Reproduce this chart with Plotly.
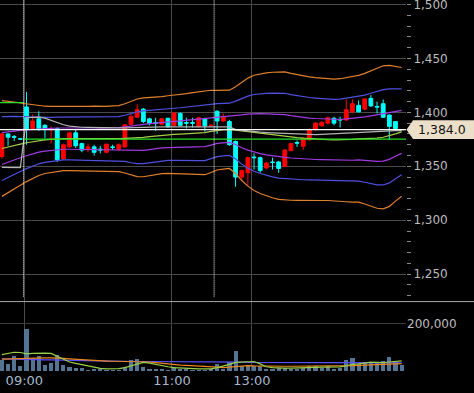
import plotly.graph_objects as go

# ---- data (bar index: 0 = 09:00 bar, 31 = 12:30 bar; negatives = previous day) ----
bars = list(range(-4, 62))
opens = [1359, 1380, 1377.5, 1375.5, 1405, 1385, 1394, 1388, 1384, 1385, 1357, 1368, 1381, 1371,
         1365.5, 1368, 1366, 1363, 1368, 1366, 1368, 1389, 1395.5, 1403, 1394, 1390.5, 1389, 1394.5,
         1388, 1399, 1390.5, 1390.5, 1387, 1394, 1388, 1401, 1392, 1391.5, 1373, 1340, 1344, 1358.5,
         1358, 1348.5, 1354, 1354, 1350, 1364.5, 1372, 1368.5, 1374.5, 1384, 1387.5, 1390, 1394.5,
         1393.5, 1393, 1400.5, 1406.5, 1403, 1413, 1405.5, 1408, 1397.5, 1391.5, 1384]
highs = [1381, 1380.5, 1379, 1376, 1419, 1398, 1401, 1389, 1387, 1386, 1371, 1382, 1384, 1372,
         1371, 1370, 1369, 1371, 1370, 1371.5, 1389, 1399, 1407.5, 1404, 1395, 1395, 1395, 1395,
         1400, 1400, 1395, 1395, 1396, 1395, 1388.5, 1402, 1399, 1393, 1374, 1347, 1359, 1362,
         1359, 1354, 1358, 1355, 1366, 1372, 1374, 1377, 1385, 1391, 1392, 1396, 1396, 1396,
         1412, 1412, 1411, 1413, 1416, 1410, 1412, 1398, 1392, 1384.5]
lows = [1357, 1369, 1373.5, 1375, 1370, 1384, 1383, 1376, 1371, 1354, 1356, 1367, 1367, 1363,
        1363, 1360, 1362, 1362, 1365, 1364, 1367, 1388, 1395, 1390, 1388, 1383, 1388, 1386,
        1387, 1387, 1385, 1386, 1386, 1382, 1387.5, 1380, 1391, 1369, 1331, 1337, 1332, 1347,
        1344, 1347, 1347, 1344, 1349, 1364, 1368, 1365, 1374, 1383, 1387, 1389, 1388, 1386,
        1392, 1399, 1400, 1402, 1405, 1399, 1395, 1374.5, 1383, 1383.5]
closes = [1380, 1377, 1377, 1375.2, 1384, 1392, 1384, 1384, 1385, 1356, 1370, 1381, 1369, 1365,
          1368, 1363, 1365, 1370.5, 1367.5, 1370, 1388.5, 1396, 1402.5, 1391.5, 1389.5, 1390, 1394,
          1386.5, 1399.5, 1388, 1390, 1390, 1395, 1387.5, 1388, 1392, 1395.5, 1370, 1340, 1346,
          1358, 1358, 1346, 1353, 1353.5, 1348, 1365, 1371, 1371.5, 1376, 1384, 1390, 1390.5,
          1395, 1390, 1393, 1402.5, 1408, 1400.5, 1412.5, 1406, 1405, 1395.5, 1387, 1385, 1384]
volume_k = [50, 31, 65, 22,
            177, 55, 67, 28, 34, 69, 28, 20, 13, 15,
            8, 11, 11, 8, 6, 6, 20, 48, 52, 20,
            11, 11, 11, 8, 17, 11, 11, 8, 6, 8,
            11, 31, 11, 38, 86, 21, 28, 24, 21, 10,
            10, 14, 14, 10, 10, 13, 21, 21, 14, 21,
            10, 14, 48, 57, 31, 35, 38, 35, 42, 62,
            38, 28]
vol_ma_short_k = [69, 75, 79, 78,
                  72, 74, 76, 75, 74, 62, 48, 38, 32, 26,
                  20, 15, 11, 9, 9, 10, 14, 22, 30, 36,
                  33, 27, 22, 18, 14, 12, 11, 10, 9, 9,
                  9, 14, 20, 28, 36, 38, 40, 40, 30, 18,
                  14, 12, 12, 12, 12, 12, 14, 15, 16, 17,
                  17, 17, 22, 28, 30, 33, 37, 36, 35, 38,
                  42, 43]
vol_ma_mid_k = [50, 51, 52, 53,
                55, 55, 55, 55, 55, 55, 53, 51, 49, 47,
                45, 44, 43, 42, 41, 41, 41, 41, 41, 40,
                38, 35, 32, 29, 27, 25, 24, 23, 22, 21,
                20, 16, 14, 16, 20, 22, 23, 22, 21, 21,
                20, 20, 20, 20, 20, 20, 20, 20, 20, 20,
                20, 21, 22, 23, 24, 25, 26, 27, 28, 29,
                30, 31]
vol_ma_long_k = [51, 50, 50, 49,
                 49, 48, 48, 47, 47, 46, 46, 45, 45, 44,
                 44, 43, 43, 42, 42, 41, 41, 41, 40, 40,
                 40, 39, 39, 39, 38, 38, 38, 37, 37, 37,
                 37, 37, 37, 37, 37, 37, 36, 36, 36, 36,
                 36, 36, 36, 35, 35, 35, 35, 35, 35, 35,
                 35, 35, 35, 35, 35, 34, 34, 34, 34, 34,
                 34, 34]
bb_mid = [1366.5, 1368.1, 1369.4, 1370.6,
          1371.8, 1372.9, 1373.9, 1374.5, 1375.0, 1375.5, 1375.7, 1375.7, 1375.6, 1375.5,
          1375.5, 1375.4, 1375.3, 1375.3, 1375.5, 1375.6, 1375.9, 1376.1, 1376.4, 1376.9,
          1377.5, 1378.2, 1378.9, 1379.4, 1379.6, 1379.9, 1380.2, 1380.5, 1380.8, 1381.2,
          1382.4, 1383.5, 1384.0, 1384.3, 1383.6, 1382.4, 1381.7, 1381.0, 1380.3, 1379.6,
          1379.0, 1378.4, 1378.1, 1377.3, 1376.6, 1376.1, 1375.6, 1375.3, 1375.0, 1374.7,
          1374.5, 1374.5, 1374.7, 1375.0, 1375.5, 1375.6, 1375.9, 1376.2, 1376.9, 1378.2,
          1380.1, 1381.9]
bb_sigma = [14.8, 14.1, 13.4, 12.7,
            12.0, 11.4, 10.8, 10.4, 10.2, 10.0, 9.9, 9.9, 9.9, 10.0,
            10.0, 10.1, 10.1, 10.1, 10.2, 10.2, 10.7, 11.4, 12.0, 12.2,
            12.1, 11.9, 11.9, 12.0, 12.1, 12.2, 12.4, 12.6, 12.8, 13.0,
            12.7, 12.3, 12.2, 12.1, 13.4, 15.2, 16.7, 17.8, 18.5, 19.0,
            19.4, 19.7, 19.8, 19.6, 19.4, 19.3, 19.1, 19.0, 18.9, 18.8,
            18.8, 18.9, 19.2, 19.4, 19.6, 20.2, 20.9, 21.7, 22.1, 21.8,
            20.8, 19.9]
vwap = [1349, 1349, 1348.8, 1348.8,
        1395, 1395.5, 1395.5, 1394.6, 1392.6, 1390.3, 1388.5, 1387.3, 1386.6, 1386.2,
        1386.0, 1385.8, 1385.6, 1385.6, 1385.6, 1385.6, 1385.6, 1385.8, 1386.2, 1386.4,
        1386.5, 1386.5, 1386.5, 1386.5, 1386.5, 1386.5, 1386.5, 1386.5, 1386.5, 1386.5,
        1386.5, 1386.8, 1386.9, 1386.6, 1384.0, 1383.3, 1382.6, 1382.2, 1381.6, 1381.3,
        1381.0, 1380.6, 1380.3, 1380.0, 1379.6, 1379.4, 1379.3, 1379.4, 1379.6, 1379.9,
        1380.2, 1380.5, 1381.0, 1381.6, 1382.0, 1382.3, 1382.6, 1382.8, 1383.0, 1383.1,
        1383.1, 1383.1]
prev_close_levels = [1409, 1375.2]
prev_close_start = [-4.31, -0.5]
prev_close_end = [-0.5, 61.71]
time_labels = ["09:00", "11:00", "13:00"]
time_label_bars = [0, 24, 37]
session_start_bars = [0, 31]

volume = [v * 1000 for v in volume_k]
vol_ma_short = [v * 1000 for v in vol_ma_short_k]
vol_ma_mid = [v * 1000 for v in vol_ma_mid_k]
vol_ma_long = [v * 1000 for v in vol_ma_long_k]

FONT = "DejaVu Sans"
X_RANGE = [-4.31, 61.71]
P_RANGE = [1226.4, 1504.2]
V_RANGE = [0, 301000]
PLOT_H = 371.5
PLOT_W = 406.0
SPLIT = 0.1925

fig = go.Figure()

fig.add_trace(go.Bar(x=bars, y=volume, marker_color="#547494", marker_line_width=0,
                     width=0.68, xaxis="x2", yaxis="y2", hoverinfo="skip"))

band_styles = [(3, "#e0802c"), (2, "#5050e0"), (1, "#a03ce0")]
for n, col in band_styles:
    for sgn in (1, -1):
        fig.add_trace(go.Scatter(x=bars, y=[m + sgn * n * s for m, s in zip(bb_mid, bb_sigma)],
                                 mode="lines", line=dict(color=col, width=1.2),
                                 hoverinfo="skip"))
fig.add_trace(go.Scatter(x=bars, y=bb_mid, mode="lines",
                         line=dict(color="#a6cc4a", width=1.2), hoverinfo="skip"))
fig.add_trace(go.Scatter(x=bars, y=vwap, mode="lines",
                         line=dict(color="#b4b4b4", width=1.2), hoverinfo="skip"))
for lvl, x0, x1 in zip(prev_close_levels, prev_close_start, prev_close_end):
    fig.add_trace(go.Scatter(x=[x0, x1], y=[lvl, lvl], mode="lines",
                             line=dict(color="#28e028", width=1.2), hoverinfo="skip"))

for series, col in [(vol_ma_long, "#5a50ff"), (vol_ma_mid, "#e8861c"), (vol_ma_short, "#98d048")]:
    fig.add_trace(go.Scatter(x=bars, y=series, mode="lines", line=dict(color=col, width=1.2),
                             xaxis="x2", yaxis="y2", hoverinfo="skip"))

fig.add_trace(go.Candlestick(
    x=bars, open=opens, high=highs, low=lows, close=closes,
    increasing=dict(line=dict(color="#ff0000", width=1), fillcolor="#ff0000"),
    decreasing=dict(line=dict(color="#00ffff", width=1), fillcolor="#00ffff"),
    whiskerwidth=0, hoverinfo="skip"))

last = closes[-1]
shapes = []
shapes.append(dict(type="line", xref="paper", x0=0, x1=1, yref="y", y0=last, y1=last,
                   line=dict(color="#ffffff", width=1.3), layer="above"))
price_bottom = 1 - 297 / PLOT_H
for b in session_start_bars:
    shapes.append(dict(type="line", xref="x", x0=b - 0.49, x1=b - 0.49, yref="paper",
                       y0=price_bottom, y1=1, line=dict(color="#ffffff", width=1, dash="1px,1px"),
                       layer="above"))
shapes.append(dict(type="line", xref="paper", x0=0, x1=474 / PLOT_W, yref="paper",
                   y0=1 - 302 / PLOT_H, y1=1 - 302 / PLOT_H,
                   line=dict(color="#a8a8a8", width=1), layer="above"))

py = (P_RANGE[1] - last) / (P_RANGE[1] - P_RANGE[0]) * 300.0
def px(x):
    return x / PLOT_W
def pyy(y):
    return 1 - y / PLOT_H
path = (f"M {px(406.5)},{pyy(py)} L {px(413)},{pyy(py - 9.3)} L {px(474)},{pyy(py - 9.3)} "
        f"L {px(474)},{pyy(py + 9.3)} L {px(413)},{pyy(py + 9.3)} Z")
shapes.append(dict(type="path", xref="paper", yref="paper", path=path,
                   fillcolor="#ebdfc9", line=dict(width=0), layer="above"))

annotations = [dict(xref="paper", yref="paper", x=px(442), y=pyy(py), text=f"{last:,.1f}",
                    showarrow=False, xanchor="center", yanchor="middle",
                    font=dict(family=FONT, size=12.5, color="#141414"))]

tickvals = [b - 0.35 for b in time_label_bars]
grid_col = "#4a4a4a"

fig.update_layout(
    width=474, height=393,
    margin=dict(l=0, r=474 - PLOT_W, t=0, b=393 - PLOT_H, pad=0, autoexpand=False),
    paper_bgcolor="#000000", plot_bgcolor="#000000",
    showlegend=False, boxgap=0.12, bargap=0,
    shapes=shapes, annotations=annotations,
    xaxis=dict(domain=[0, 1], range=X_RANGE, anchor="y", showticklabels=False,
               tickvals=tickvals, showgrid=True, gridcolor=grid_col, gridwidth=1,
               zeroline=False, showline=False, ticks="", rangeslider=dict(visible=False),
               fixedrange=True, automargin=False),
    yaxis=dict(domain=[SPLIT, 1], range=P_RANGE, side="right", anchor="x",
               tick0=0, dtick=50, tickformat=",d", ticks="outside", ticklen=4,
               tickcolor="#8a8a8a", showgrid=True, gridcolor=grid_col, zeroline=False,
               showline=False, tickfont=dict(family=FONT, size=12, color="#bdbdbd"),
               ticklabeloverflow="allow",
               minor=dict(dtick=10, tick0=0, ticks="outside", ticklen=4, tickcolor="#8a8a8a",
                          showgrid=False),
               fixedrange=True, automargin=False),
    xaxis2=dict(domain=[0, 1], range=X_RANGE, anchor="y2", matches="x",
                tickvals=tickvals, ticktext=time_labels, showgrid=True, gridcolor=grid_col,
                zeroline=False, showline=False, ticks="",
                tickfont=dict(family=FONT, size=13, color="#a6b8cc"), fixedrange=True,
                automargin=False),
    yaxis2=dict(domain=[0, SPLIT], range=V_RANGE, side="right", anchor="x2",
                tickvals=[200000], tickformat=",d", ticks="", showgrid=True,
                gridcolor="#3c3c3c", zeroline=False, showline=False,
                tickfont=dict(family=FONT, size=12, color="#bdbdbd"), fixedrange=True,
                automargin=False),
)

fig.write_html("out.html", config={"displayModeBar": False},
               post_script="document.body.style.margin='0';document.body.style.padding='0';"
                           "document.body.style.background='#000';")
